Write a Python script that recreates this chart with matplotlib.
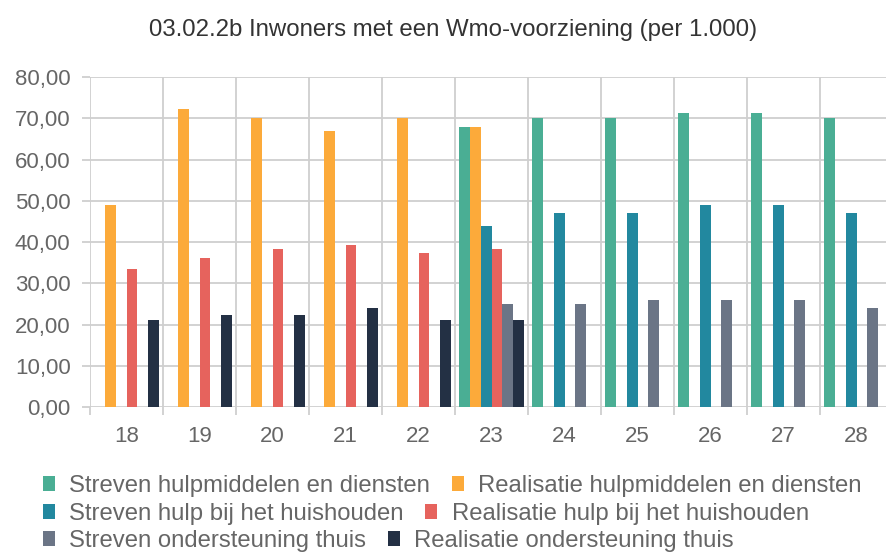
import matplotlib.pyplot as plt
import numpy as np

plt.rcParams['font.family'] = ['Liberation Sans', 'DejaVu Sans']

nan = np.nan
jaren = ['18', '19', '20', '21', '22', '23', '24', '25', '26', '27', '28']

streven_hulpmiddelen = [nan, nan, nan, nan, nan, 68, 70, 70, 71.3, 71.3, 70]
realisatie_hulpmiddelen = [49, 72.3, 70, 67, 70, 68, nan, nan, nan, nan, nan]
streven_huishouden = [nan, nan, nan, nan, nan, 44, 47, 47, 49, 49, 47]
realisatie_huishouden = [33.4, 36.2, 38.3, 39.2, 37.3, 38.2, nan, nan, nan, nan, nan]
streven_ondersteuning = [nan, nan, nan, nan, nan, 25, 25, 26, 26, 26, 24]
realisatie_ondersteuning = [21.2, 22.2, 22.2, 24.1, 21.2, 21.2, nan, nan, nan, nan, nan]

series = [
    ('Streven hulpmiddelen en diensten', streven_hulpmiddelen, '#4aae94'),
    ('Realisatie hulpmiddelen en diensten', realisatie_hulpmiddelen, '#fcaa3a'),
    ('Streven hulp bij het huishouden', streven_huishouden, '#22889f'),
    ('Realisatie hulp bij het huishouden', realisatie_huishouden, '#e6635d'),
    ('Streven ondersteuning thuis', streven_ondersteuning, '#6b7586'),
    ('Realisatie ondersteuning thuis', realisatie_ondersteuning, '#233044'),
]

grid_c = '#cfcfcf'
text_c = '#666666'

fig = plt.figure(figsize=(8.86, 5.52), dpi=100)
ax = fig.add_axes([90 / 886, 145 / 552, 803 / 886, 330 / 552])

x = np.arange(len(jaren))
w = 0.15
bars = []
for i, (label, vals, color) in enumerate(series):
    b = ax.bar(x + (i - 2.5) * w, vals, w, color=color, label=label, zorder=3)
    bars.append(b)

ax.set_xlim(-0.5, len(jaren) - 0.5)
ax.set_ylim(0, 80)
ax.set_yticks(np.arange(0, 81, 10))
ax.set_yticklabels([f'{v:.2f}'.replace('.', ',') for v in np.arange(0, 81, 10)])

# gridlines on the category boundaries, labels in the middle
ax.set_xticks(np.arange(-0.5, len(jaren), 1))
ax.set_xticklabels([])
ax.set_xticks(x, minor=True)
ax.set_xticklabels(jaren, minor=True)
ax.tick_params(axis='x', which='minor', length=0, pad=14, labelsize=16, labelcolor=text_c)
ax.tick_params(axis='x', which='major', length=6, width=1.3, color=grid_c)
ax.tick_params(axis='y', length=6, width=1.3, color=grid_c, pad=8,
               labelsize=16, labelcolor=text_c)
ax.grid(True, which='major', color=grid_c, linewidth=1.3, zorder=0)
ax.set_axisbelow(True)
for s in ax.spines.values():
    s.set_visible(False)

fig.text(0.511, 0.946, '03.02.2b Inwoners met een Wmo-voorziening (per 1.000)',
         ha='center', va='center', fontsize=17.3, color='#333333')

rows_y = [486, 514, 541]
for r in range(3):
    h = [bars[2 * r], bars[2 * r + 1]]
    lab = [series[2 * r][0], series[2 * r + 1][0]]
    leg = fig.legend(h, lab, ncol=2, loc='center left',
                     bbox_to_anchor=(43 / 886, 1 - rows_y[r] / 552),
                     frameon=False, fontsize=17.2, labelcolor=text_c,
                     handlelength=0.5, handleheight=0.55, handletextpad=0.6,
                     columnspacing=0.9, borderpad=0, borderaxespad=0)

fig.savefig('out.png', dpi=100)
